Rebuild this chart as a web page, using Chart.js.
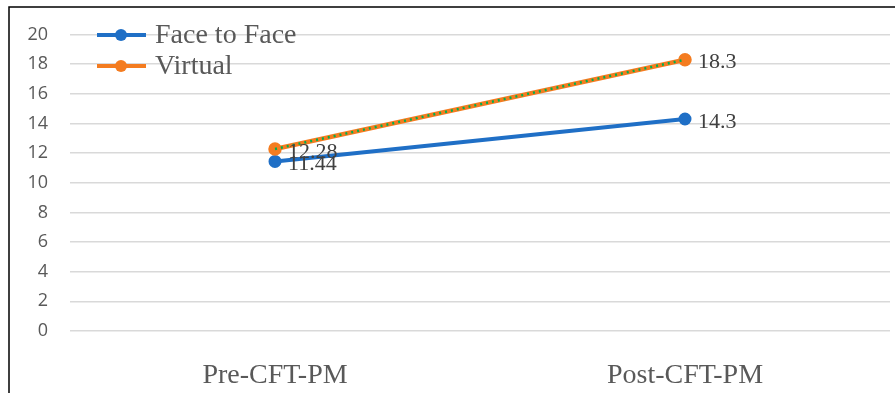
<!DOCTYPE html>
<html>
<head>
  <title>Pre/Post CFT-PM</title>
  <style>
    body { margin: 0; background: #fff; overflow: hidden; }
    #wrap { width: 895px; height: 393px; overflow: hidden; }
  </style>
</head>
<body>
  <div id="wrap"><canvas id="chart" width="899" height="393"></canvas></div>

  <script src="https://cdn.jsdelivr.net/npm/chart.js@4.4.0/dist/chart.umd.js"></script>
  <script>
    // data
    const categories = ['Pre-CFT-PM', 'Post-CFT-PM'];
    const faceToFace = [11.44, 14.3];
    const virtual = [12.28, 18.3];
    const yTicks = [0, 2, 4, 6, 8, 10, 12, 14, 16, 18, 20];

    const blue = '#1f6fc6';
    const orange = '#f47c20';
    const green = '#00b050';
    const serif = '"Liberation Serif", "Times New Roman", serif';

    // outer frame (top + left only, like the source)
    const framePlugin = {
      id: 'frame',
      afterDraw(chart) {
        const c = chart.ctx;
        c.save();
        c.strokeStyle = '#000';
        c.lineWidth = 1.5;
        c.beginPath();
        c.moveTo(9, 393);
        c.lineTo(9, 7);
        c.lineTo(899, 7);
        c.stroke();
        c.restore();
      }
    };

    // legend drawn over the plot area, top-left
    const legendPlugin = {
      id: 'overLegend',
      afterDatasetsDraw(chart) {
        const c = chart.ctx;
        const items = chart.data.datasets.filter(d => !d.hideLegend);
        c.save();
        items.forEach((ds, i) => {
          const y = 35 + i * 31;
          c.strokeStyle = ds.borderColor;
          c.lineWidth = 4;
          c.beginPath();
          c.moveTo(97, y);
          c.lineTo(146, y);
          c.stroke();
          c.fillStyle = ds.borderColor;
          c.beginPath();
          c.arc(121, y, 6, 0, Math.PI * 2);
          c.fill();
          c.fillStyle = '#595959';
          c.font = '28px ' + serif;
          c.textBaseline = 'middle';
          c.textAlign = 'left';
          c.fillText(ds.label, 155, y + 1);
        });
        c.restore();
      }
    };

    // value labels to the right of each point
    const valuePlugin = {
      id: 'values',
      afterDatasetsDraw(chart) {
        const c = chart.ctx;
        c.save();
        c.font = '22px ' + serif;
        c.fillStyle = '#404040';
        c.textBaseline = 'middle';
        c.textAlign = 'left';
        chart.data.datasets.forEach((ds, di) => {
          if (ds.hideLegend) return;
          const meta = chart.getDatasetMeta(di);
          meta.data.forEach((pt, i) => {
            c.fillText(String(ds.data[i]), pt.x + 13, pt.y + 3);
          });
        });
        c.restore();
      }
    };

    new Chart(document.getElementById('chart'), {
      type: 'line',
      data: {
        labels: categories,
        datasets: [
          {
            label: 'Face to Face',
            data: faceToFace,
            borderColor: blue,
            backgroundColor: blue,
            borderWidth: 4,
            pointRadius: 4.5,
            pointHoverRadius: 4.5,
            order: 2
          },
          {
            label: 'Virtual',
            data: virtual,
            borderColor: orange,
            backgroundColor: orange,
            borderWidth: 4.5,
            pointRadius: 4.5,
            pointHoverRadius: 4.5,
            order: 1
          },
          {
            label: 'Virtual dots',
            hideLegend: true,
            data: virtual,
            borderColor: green,
            borderWidth: 2.5,
            borderDash: [2, 4],
            borderCapStyle: 'butt',
            pointRadius: 0,
            order: 0
          }
        ]
      },
      options: {
        responsive: false,
        animation: false,
        events: [],
        layout: { padding: { top: 34.5, right: 1, left: 0, bottom: 0 } },
        plugins: {
          legend: { display: false },
          tooltip: { enabled: false }
        },
        scales: {
          x: {
            offset: true,
            grid: { display: false, drawTicks: false },
            border: { display: false },
            ticks: {
              color: '#595959',
              font: { family: serif, size: 28 },
              padding: 28
            },
            afterFit(scale) { scale.height = 62; }
          },
          y: {
            min: 0,
            max: 20,
            afterBuildTicks(scale) { scale.ticks = yTicks.map(v => ({ value: v })); },
            grid: { color: '#d9d9d9', lineWidth: 1.5, drawTicks: false },
            border: { display: false },
            ticks: {
              color: '#595959',
              font: { family: '"Open Sans", sans-serif', size: 18 },
              padding: 22
            },
            afterFit(scale) { scale.width = 70; }
          }
        }
      },
      plugins: [framePlugin, legendPlugin, valuePlugin]
    });
  </script>
</body>
</html>
